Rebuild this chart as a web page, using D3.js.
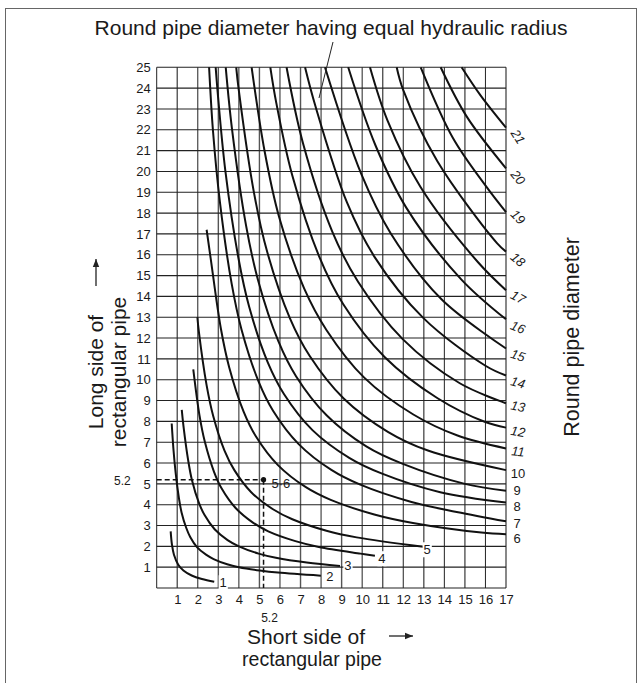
<!DOCTYPE html>
<html><head><meta charset="utf-8">
<script src="https://cdn.jsdelivr.net/npm/d3@7"></script>
<style>
body{margin:0;background:#fff}
svg{display:block}
text{font-family:"Liberation Sans",Arial,Helvetica,sans-serif;fill:#1a1a1a}
</style>
</head><body>
<svg id="chart" width="642" height="683"></svg>
<script>
// ---------- data ----------
const xTickLabels = [1,2,3,4,5,6,7,8,9,10,11,12,13,14,15,16,17];
const yTickLabels = [1,2,3,4,5,6,7,8,9,10,11,12,13,14,15,16,17,18,19,20,21,22,23,24,25];
const curveLabels = ["1","2","3","4","5","6","7","8","9","10","11","12","13","14","15","16","17","18","19","20","21"];

// each curve: [short side, long side] points along the line of equal round-pipe diameter
const curve01 = [[0.68,2.72],[0.74,2.1],[0.84,1.6],[1.05,1.12],[1.3,0.84],[1.7,0.6],[2.2,0.43],[2.8,0.3]];
const curve02 = [[0.73,7.9],[0.82,6.6],[0.92,5.55],[1.08,4.33],[1.21,3.63],[1.44,2.88],[1.63,2.45],[1.97,1.95],[2.4,1.6],[2.77,1.39],[3.43,1.14],[4.0,1.0],[5.02,0.84],[5.9,0.74],[7.99,0.59]];
const curve03 = [[1.22,8.55],[1.3,7.8],[1.53,6.14],[1.72,5.16],[2.05,4.1],[2.33,3.5],[2.82,2.82],[3.45,2.3],[4.0,2.0],[4.96,1.65],[5.8,1.45],[7.3,1.22],[8.92,1.06]];
const curve04 = [[1.78,10.5],[2.08,8.3],[2.34,7.03],[2.79,5.58],[3.17,4.76],[3.84,3.84],[4.7,3.13],[5.43,2.72],[6.75,2.25],[7.89,1.97],[9.92,1.65],[10.62,1.55]];
const curve05 = [[1.98,13.0],[2.05,12.32],[2.43,9.73],[2.75,8.26],[3.3,6.6],[3.78,5.66],[4.6,4.6],[5.66,3.78],[6.6,3.3],[8.26,2.75],[9.73,2.43],[12.97,1.98]];
const curve06 = [[2.43,17.2],[2.63,15.8],[3.12,12.47],[3.53,10.59],[4.23,8.47],[4.84,7.26],[5.9,5.9],[7.26,4.84],[8.47,4.23],[10.59,3.53],[12.47,3.12],[15.8,2.66],[17,2.58]];
const curve07 = [[2.55,25],[2.74,21.94],[3.08,18.5],[3.65,14.6],[4.13,12.4],[4.96,9.91],[5.67,8.5],[6.91,6.91],[8.5,5.67],[9.91,4.96],[12.4,4.13],[14.6,3.65],[17,3.2]];
const curve08 = [[2.87,25],[2.97,23.77],[3.34,20.04],[3.97,15.88],[4.5,13.5],[5.41,10.82],[6.2,9.3],[7.58,7.58],[9.37,6.25],[10.97,5.49],[13.8,4.6],[17,4.1]];
const curve09 = [[3.36,25],[3.67,22.0],[4.35,17.4],[4.93,14.79],[5.92,11.85],[6.78,10.17],[8.28,8.28],[10.2,6.8],[11.95,5.97],[15.0,5.0],[17,4.67]];
const curve10 = [[3.87,25],[3.99,23.94],[4.74,18.95],[5.38,16.13],[6.48,12.96],[7.44,11.15],[9.1,9.1],[11.25,7.5],[13.2,6.6],[17,5.66]];
const curve11 = [[4.62,25],[5.25,20.98],[5.95,17.84],[7.18,14.37],[8.26,12.39],[10.1,10.1],[12.49,8.33],[14.64,7.32],[17,6.7]];
const curve12 = [[5.53,25],[5.82,23.29],[6.6,19.8],[7.93,15.86],[9.08,13.62],[11.09,11.09],[13.67,9.11],[15.96,7.98],[17,7.7]];
const curve13 = [[6.32,25],[7.12,21.35],[8.55,17.1],[9.8,14.7],[11.96,11.96],[14.75,9.83],[17,8.87]];
const curve14 = [[7.22,25],[7.72,23.15],[9.26,18.51],[10.6,15.9],[12.97,12.97],[16.0,10.67],[17,10.2]];
const curve15 = [[8.19,25],[9.95,19.89],[11.37,17.06],[13.86,13.86],[17,11.5]];
const curve16 = [[9.32,25],[10.64,21.27],[12.16,18.24],[14.82,14.82],[17,12.9]];
const curve17 = [[10.38,25],[11.23,22.45],[12.84,19.25],[15.64,15.64],[17,14.3]];
const curve18 = [[11.68,25],[12.0,23.9],[13.66,20.49],[16.56,16.56],[17,16.15]];
const curve19 = [[12.85,25],[14.41,21.62],[16.05,19.26],[17,18.05]];
const curve20 = [[13.82,25],[15.09,22.63],[17,20.15]];
const curve21 = [[14.84,25],[15.76,23.65],[17,22.1]];

const markerPoint = [5.2, 5.2];
const markerLabel = "5·6";
const markerTick = "5.2";

const titleText = "Round pipe diameter having equal hydraulic radius";
const yTitle = ["Long side of", "rectangular pipe"];
const xTitle = ["Short side of", "rectangular pipe"];
const rightTitle = "Round pipe diameter";

// ---------- layout / style ----------
const curves = [curve01,curve02,curve03,curve04,curve05,curve06,curve07,curve08,curve09,curve10,
  curve11,curve12,curve13,curve14,curve15,curve16,curve17,curve18,curve19,curve20,curve21];
const labelStyle = {
  "1":{dx:9,dy:1,rot:0,it:false,bg:true}, "2":{dx:9,dy:1,rot:0,it:false,bg:true},
  "3":{dx:8,dy:0,rot:0,it:false,bg:true}, "4":{dx:7,dy:3,rot:0,it:false,bg:true},
  "5":{dx:4,dy:3,rot:0,it:false,bg:true},
  "6":{dx:11,dy:4,rot:0}, "7":{dx:11,dy:2,rot:0}, "8":{dx:11,dy:4,rot:0}, "9":{dx:11,dy:0,rot:0},
  "10":{dx:12,dy:3,rot:0}, "11":{dx:12,dy:3,rot:5,it:true}, "12":{dx:12,dy:4,rot:10,it:true},
  "13":{dx:12,dy:3,rot:12,it:true}, "14":{dx:12,dy:7,rot:15,it:true}, "15":{dx:12,dy:7,rot:18,it:true},
  "16":{dx:12,dy:8,rot:22,it:true}, "17":{dx:12,dy:7,rot:28,it:true}, "18":{dx:12,dy:8,rot:40,it:true},
  "19":{dx:12,dy:5,rot:45,it:true}, "20":{dx:12,dy:9,rot:50,it:true}, "21":{dx:12,dy:9,rot:58,it:true}
};

const svg = d3.select("#chart");
const W = 642, H = 683;
const x = d3.scaleLinear().domain([0,17]).range([156.7,506]);
const y = d3.scaleLinear().domain([0,25]).range([588,67.3]);

// outer frame
svg.append("rect").attr("x",5.5).attr("y",8.5).attr("width",631).attr("height",H)
  .attr("fill","none").attr("stroke","#666").attr("stroke-width",1);

// grid
const g = svg.append("g");
g.selectAll("line.v").data(d3.range(0,18)).join("line")
  .attr("x1",d=>x(d)).attr("x2",d=>x(d)).attr("y1",y(0)).attr("y2",y(25))
  .attr("stroke",d=>d%2?"#555":"#222").attr("stroke-width",d=>d%2?1.4:1);
g.selectAll("line.h").data(d3.range(0,26)).join("line")
  .attr("y1",d=>y(d)).attr("y2",d=>y(d)).attr("x1",x(0)).attr("x2",x(17))
  .attr("stroke","#222").attr("stroke-width",1.1);

// axes tick labels
const xAxis = d3.axisBottom(x).tickValues(xTickLabels).tickSize(0).tickPadding(7).tickFormat(d3.format("d"));
const yAxis = d3.axisLeft(y).tickValues(yTickLabels).tickSize(0).tickPadding(6).tickFormat(d3.format("d"));
const gx = svg.append("g").attr("transform",`translate(0,${y(0)})`).call(xAxis);
const gy = svg.append("g").attr("transform",`translate(${x(0)},0)`).call(yAxis);
[gx,gy].forEach(a=>{a.select(".domain").remove();
  a.selectAll("text").attr("font-size",13).attr("font-family",'"Liberation Sans",Arial,sans-serif').attr("fill","#1a1a1a");});

// curves
const line = d3.line().x(d=>x(d[0])).y(d=>y(d[1])).curve(d3.curveCatmullRom.alpha(0.5));
svg.append("g").selectAll("path").data(curves).join("path")
  .attr("d",line).attr("fill","none").attr("stroke","#111").attr("stroke-width",2);

// curve labels
curves.forEach((c,i)=>{
  const lab = curveLabels[i], st = labelStyle[lab];
  const e = c[c.length-1];
  const px = x(e[0]) + st.dx, py = y(e[1]) + st.dy;
  const t = svg.append("text").attr("text-anchor","middle").attr("dominant-baseline","central")
    .attr("font-size",13).attr("font-style",st.it?"italic":"normal")
    .attr("transform",`translate(${px},${py}) rotate(${st.rot})`).text(lab);
  if(st.bg){
    const bb = t.node().getBBox();
    svg.insert("rect", () => t.node()).attr("x",px+bb.x-1).attr("y",py+bb.y)
      .attr("width",bb.width+2).attr("height",bb.height).attr("fill","#fff");
  }
});

// marker: dashed guides at 5.2
svg.append("line").attr("x1",x(0)).attr("x2",x(markerPoint[0])).attr("y1",y(markerPoint[1])).attr("y2",y(markerPoint[1]))
  .attr("stroke","#111").attr("stroke-width",1.5).attr("stroke-dasharray","5,3");
svg.append("line").attr("x1",x(markerPoint[0])).attr("x2",x(markerPoint[0])).attr("y1",y(markerPoint[1])).attr("y2",y(0))
  .attr("stroke","#111").attr("stroke-width",1.5).attr("stroke-dasharray","5,3");
svg.append("circle").attr("cx",x(markerPoint[0])).attr("cy",y(markerPoint[1])).attr("r",2.6).attr("fill","#111");
svg.append("text").attr("x",x(markerPoint[0])+8).attr("y",y(markerPoint[1])+8).attr("font-size",13).text(markerLabel);
svg.append("text").attr("x",x(0)-26).attr("y",y(markerPoint[1])+5).attr("text-anchor","end").attr("font-size",12).text(markerTick);
svg.append("text").attr("x",x(markerPoint[0])+6).attr("y",y(0)+34).attr("text-anchor","middle").attr("font-size",12).text(markerTick);

// titles
svg.append("text").attr("x",331).attr("y",35).attr("text-anchor","middle").attr("font-size",21).text(titleText);
svg.append("line").attr("x1",333).attr("y1",42).attr("x2",319).attr("y2",98).attr("stroke","#222").attr("stroke-width",1);

const yt = svg.append("text").attr("transform","translate(103,372) rotate(-90)").attr("text-anchor","middle").attr("font-size",21);
yt.append("tspan").attr("x",0).attr("dy",0).text(yTitle[0]);
yt.append("tspan").attr("x",0).attr("dy",23).text(yTitle[1]);

// arrows
function arrow(x1,y1,x2,y2){
  svg.append("line").attr("x1",x1).attr("y1",y1).attr("x2",x2).attr("y2",y2).attr("stroke","#222").attr("stroke-width",1.3);
  const ang = Math.atan2(y2-y1,x2-x1), L=8, Wd=3.2;
  const p = [[x2,y2],[x2-L*Math.cos(ang)+Wd*Math.sin(ang), y2-L*Math.sin(ang)-Wd*Math.cos(ang)],
             [x2-L*Math.cos(ang)-Wd*Math.sin(ang), y2-L*Math.sin(ang)+Wd*Math.cos(ang)]];
  svg.append("path").attr("d",d3.line()(p)+"Z").attr("fill","#222");
}
arrow(96,286,96,259);
arrow(389,636,413,636);

svg.append("text").attr("transform","translate(579,337) rotate(-90)").attr("text-anchor","middle").attr("font-size",21.5).text(rightTitle);

svg.append("text").attr("x",306).attr("y",644).attr("text-anchor","middle").attr("font-size",19.5)
  .attr("textLength",118).attr("lengthAdjust","spacingAndGlyphs").text(xTitle[0]);
svg.append("text").attr("x",312).attr("y",666).attr("text-anchor","middle").attr("font-size",19.5).text(xTitle[1]);
</script>
</body></html>
